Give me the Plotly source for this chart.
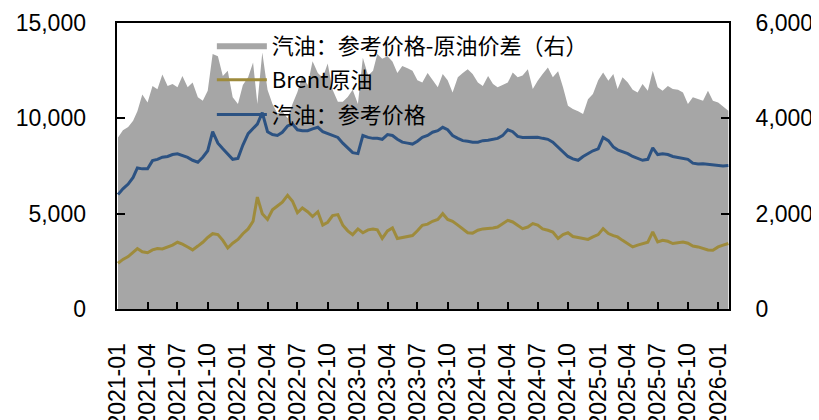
import plotly.graph_objects as go

# semi-monthly observation dates (1st and 16th of each month)
dates = []
for yr in range(2021, 2027):
    for mo in range(1, 13):
        if (yr, mo) > (2026, 1):
            break
        dates.append(f"{yr}-{mo:02d}-01")
        dates.append(f"{yr}-{mo:02d}-16")
dates.append("2026-02-01")

# 汽油：参考价格-原油价差（右）  (right axis)
spread = [3600, 3750, 3820, 3950, 4150, 4500, 4330, 4680, 4610, 4920,
          4680, 4720, 4650, 4890, 4650, 4750, 4440, 4370, 4580, 5350,
          5300, 4890, 5000, 4440, 4300, 4700, 4860, 5170, 4300, 5380,
          4600, 4300, 4100, 4150, 4000, 4300, 4550, 4900, 4700, 5200,
          4950, 4850, 5150, 4600, 4350, 4350, 4450, 4600, 4300, 5270,
          4900, 5000, 5350, 5250, 5300, 5190, 4950, 5100, 5050, 5000,
          4800, 4750, 4950, 4800, 4650, 4930, 4800, 4540, 4860, 4950,
          5030, 4930, 4750, 4680, 4890, 4720, 4650, 4700, 4750, 4960,
          4860, 4900, 5030, 4615, 4790, 4930, 5065, 4860, 4990, 4650,
          4265, 4195, 4150, 4090, 4400, 4510, 4800, 4960, 4790, 4930,
          4615, 4860, 4750, 4600, 4540, 4720, 4580, 5000, 4650, 4580,
          4680, 4615, 4600, 4540, 4300, 4440, 4400, 4370, 4580, 4370,
          4330, 4250, 4160]

# Brent原油 (left axis)
brent = [2400, 2600, 2750, 3000, 3170, 3000, 2950, 3100, 3170, 3150,
         3257, 3350, 3500, 3400, 3250, 3100, 3300, 3500, 3750, 3950,
         3900, 3600, 3200, 3450, 3650, 3950, 4200, 4600, 5870, 5000,
         4700, 5200, 5400, 5600, 5960, 5650, 5050, 5300, 5100, 4850,
         5100, 4400, 4550, 4900, 4950, 4400, 4100, 3900, 4200, 4000,
         4150, 4200, 4150, 3700, 4100, 4250, 3700, 3750, 3780, 3850,
         4100, 4390, 4450, 4600, 4700, 5000, 4700, 4600, 4400, 4200,
         4000, 3980, 4130, 4200, 4215, 4250, 4300, 4450, 4650, 4565,
         4400, 4215, 4300, 4478, 4400, 4200, 4130, 4040, 3700, 3900,
         4000, 3800, 3750, 3700, 3650, 3780, 3900, 4215, 3956, 3850,
         3780, 3600, 3400, 3257, 3350, 3434, 3500, 4040, 3517, 3606,
         3550, 3434, 3480, 3517, 3450, 3300, 3257, 3170, 3100, 3083,
         3257, 3350, 3434]

# 汽油：参考价格 (left axis)
gasoline = [6000, 6300, 6550, 6900, 7400, 7350, 7350, 7780, 7850, 7960,
            8000, 8100, 8140, 8050, 7950, 7800, 7700, 7960, 8300, 9300,
            8700, 8400, 8100, 7850, 7900, 8600, 9200, 9500, 9700, 10300,
            9300, 9150, 9100, 9270, 9600, 9700, 9400, 9350, 9350, 9450,
            9530, 9300, 9200, 9100, 9000, 8700, 8450, 8200, 8150, 9100,
            9000, 8950, 8950, 8900, 9150, 9100, 8900, 8750, 8700, 8650,
            8800, 9000, 9100, 9270, 9350, 9530, 9400, 9100, 8950, 8830,
            8800, 8745, 8750, 8830, 8850, 8900, 8950, 9090, 9400, 9300,
            9050, 9000, 9005, 9000, 9005, 8950, 8900, 8750, 8500, 8220,
            8000, 7875, 7800, 8000, 8150, 8300, 8400, 9000, 8830, 8500,
            8350, 8250, 8150, 8000, 7900, 7800, 7850, 8450, 8100, 8137,
            8100, 8000, 7950, 7900, 7850, 7650, 7600, 7620, 7600, 7550,
            7525, 7500, 7525]

names = ["汽油：参考价格-原油价差（右）", "Brent原油", "汽油：参考价格"]
colors = ["#A6A6A6", "#9E8B3C", "#2C5282"]

fig = go.Figure()
fig.add_trace(go.Scatter(x=dates, y=spread, name=names[0], mode="lines",
                         fill="tozeroy", fillcolor=colors[0], legendgroup="a",
                         line=dict(width=0, color=colors[0]), yaxis="y"))
fig.add_trace(go.Scatter(x=dates, y=brent, name=names[1], mode="lines",
                         legendgroup="b",
                         line=dict(width=3, color=colors[1]), yaxis="y2"))
fig.add_trace(go.Scatter(x=dates, y=gasoline, name=names[2], mode="lines",
                         legendgroup="c",
                         line=dict(width=3, color=colors[2]), yaxis="y2"))

fig.update_layout(
    width=811, height=412,
    margin=dict(l=109, r=90, t=15, b=111, autoexpand=False),
    paper_bgcolor="white", plot_bgcolor="white",
    font=dict(family="Liberation Sans, Arial, Noto Sans CJK SC", size=23, color="black"),
    showlegend=True,
    legend=dict(x=0.155, y=0.995, xanchor="left", yanchor="top",
                bgcolor="rgba(0,0,0,0)",
                font=dict(family="Noto Sans CJK SC", size=22, color="black"),
                itemwidth=50, tracegroupgap=3, traceorder="grouped"),
    xaxis=dict(type="date", range=["2020-12-29", "2026-02-03"],
               tick0="2021-01-01", dtick="M3", tickformat="%Y-%m",
               tickangle=-90, ticks="inside", ticklen=7, tickwidth=1.5,
               tickcolor="black", showline=True, linecolor="black",
               linewidth=2, mirror=True, showgrid=False, zeroline=False,
               ticklabelstandoff=23, automargin=False),
    yaxis=dict(side="right", range=[0, 6000], dtick=2000, tickformat=",",
               ticks="inside", ticklen=8, tickwidth=1.5, tickcolor="black",
               showline=True, linecolor="black", linewidth=2, mirror=True,
               showgrid=False, zeroline=False, ticklabelstandoff=20,
               automargin=False),
    yaxis2=dict(side="left", overlaying="y", range=[0, 15000], dtick=5000,
                tickformat=",", ticks="inside", ticklen=8, tickwidth=1.5,
                tickcolor="black", showline=False, showgrid=False,
                zeroline=False, ticklabelstandoff=30, automargin=False),
)

fig.write_html("out.html")
